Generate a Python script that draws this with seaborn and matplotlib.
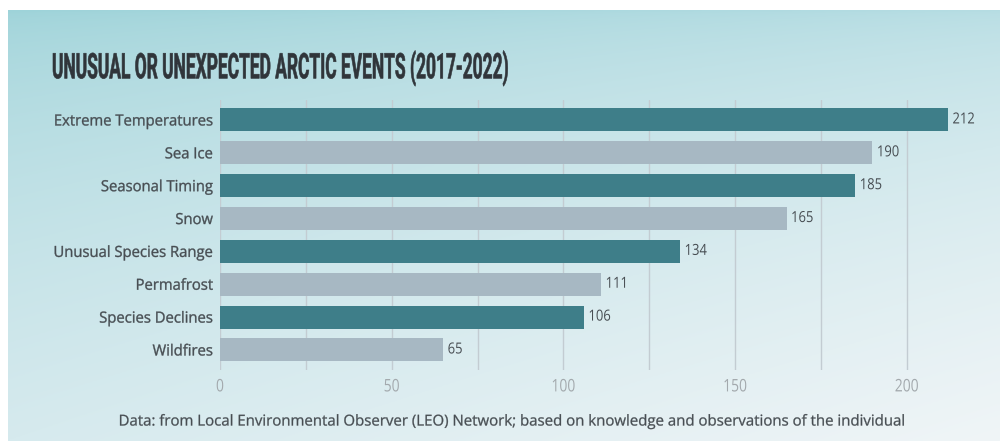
import numpy as np
import pandas as pd
import matplotlib
matplotlib.use("Agg")
import matplotlib.pyplot as plt
from matplotlib import patheffects
from matplotlib.transforms import Affine2D
import seaborn as sns

categories = ["Extreme Temperatures", "Sea Ice", "Seasonal Timing", "Snow",
              "Unusual Species Range", "Permafrost", "Species Declines", "Wildfires"]
counts = [212, 190, 185, 165, 134, 111, 106, 65]
tick_values = [0, 50, 100, 150, 200]
title = "UNUSUAL OR UNEXPECTED ARCTIC EVENTS (2017-2022)"
note = ("Data: from Local Environmental Observer (LEO) Network; "
        "based on knowledge and observations of the individual")

sns.set_theme(style="white")
plt.rcParams["font.family"] = ["Open Sans", "DejaVu Sans"]

TEAL = "#3e7e89"
GREY = "#a7b8c3"
TEXT = "#474d52"
palette = [TEAL if i % 2 == 0 else GREY for i in range(len(categories))]


class Condense(patheffects.AbstractPathEffect):
    """Squeeze glyphs horizontally (optionally thickening them with a stroke)."""

    def __init__(self, sx, anchor="left", stroke=0.0):
        super().__init__()
        self.sx = sx
        self.anchor = anchor
        self.stroke = stroke

    def draw_path(self, renderer, gc, tpath, affine, rgbFace=None):
        ext = tpath.get_extents()
        x0 = {"left": 0.0, "center": (ext.x0 + ext.x1) / 2, "right": ext.x1}[self.anchor]
        squeeze = Affine2D().translate(-x0, 0).scale(self.sx, 1).translate(x0, 0)
        gc0 = renderer.new_gc()
        gc0.copy_properties(gc)
        if self.stroke > 0 and rgbFace is not None:
            gc0.set_linewidth(self.stroke)
            gc0.set_foreground(rgbFace)
            gc0.set_joinstyle("round")
        renderer.draw_path(gc0, tpath, squeeze + affine, rgbFace)
        gc0.restore()


fig = plt.figure(figsize=(10, 4.41), dpi=100)
fig.patch.set_facecolor("white")

# icy backdrop: cyan at the top-left fading to near white at the bottom-right
bg = fig.add_axes([0.008, 0, 0.992, 0.977])
h, w = 200, 400
yy, xx = np.mgrid[0:1:h * 1j, 0:1:w * 1j]
tl = np.array([158, 211, 217]) / 255
tr = np.array([182, 221, 227]) / 255
bl = np.array([214, 234, 238]) / 255
br = np.array([240, 245, 247]) / 255
t = yy[..., None] ** 0.6
s = xx[..., None]
img = (1 - t) * ((1 - s) * tl + s * tr) + t * ((1 - s) * bl + s * br)
bg.imshow(img, aspect="auto", extent=[0, 1, 0, 1], origin="upper")
bg.set_axis_off()

ax = fig.add_axes([0.22, 0.1617, 0.7555, 0.611])
ax.patch.set_alpha(0)
df = pd.DataFrame({"category": categories, "count": counts})
sns.barplot(data=df, x="count", y="category", hue="category", palette=palette,
            legend=False, width=0.7, saturation=1, linewidth=0, ax=ax, zorder=3)

ax.set_xlim(0, 220)
ax.set_ylim(len(categories) - 0.4, -0.6)
ax.set_xticks(tick_values)
ax.set_xticks(np.arange(25, 220, 25), minor=True)
ax.grid(axis="x", which="both", color="#c3ccd2", linewidth=1.0, zorder=0)
ax.grid(axis="y", visible=False)
for sp in ax.spines.values():
    sp.set_visible(False)
ax.set_xlabel("")
ax.set_ylabel("")
ax.tick_params(axis="x", which="both", length=0, pad=7, labelsize=12.5, labelcolor="#a3a9ad")
ax.tick_params(axis="y", length=0, pad=5, labelsize=11, labelcolor=TEXT)
for lbl in ax.get_xticklabels():
    lbl.set_path_effects([Condense(0.8, "center")])
for lbl in ax.get_yticklabels():
    lbl.set_path_effects([Condense(0.97, "right", stroke=0.25)])

for i, v in enumerate(counts):
    ax.text(v + 1.3, i, str(v), va="center", ha="left", fontsize=11, color=TEXT,
            path_effects=[Condense(0.85, "left")])

# headline in a tall, narrow bold face spanning about 456 px
ttl = fig.text(0.052, 0.845, title, family=["Roboto", "DejaVu Sans"], weight="bold",
               fontsize=25.5, color="#30353a", va="center", ha="left")
renderer = fig.canvas.get_renderer()
width = ttl.get_window_extent(renderer).width
ttl.set_path_effects([Condense(456 / width, "left", stroke=0.4)])

fig.text(0.513, 0.043, note, fontsize=10.8, color=TEXT, va="center", ha="center",
         path_effects=[Condense(1.0, "left", stroke=0.2)])

fig.savefig("out.png", dpi=100)
